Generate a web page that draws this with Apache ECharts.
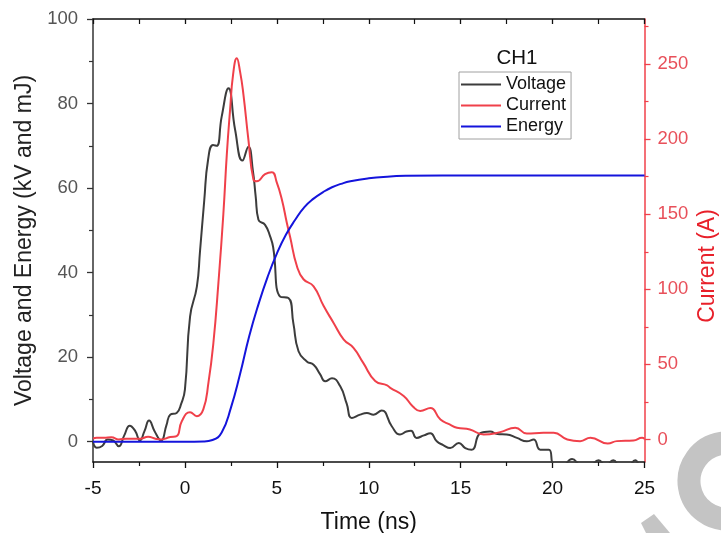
<!DOCTYPE html>
<html>
<head>
<meta charset="utf-8">
<script src="https://cdn.jsdelivr.net/npm/echarts@6/dist/echarts.min.js"></script>
<style>html,body{margin:0;padding:0;background:#fff;}#chart{width:721px;height:533px;}</style>
</head>
<body>
<div id="chart"></div>
<script>
// ---- data ----
const timeV = [-5,-4.8,-4.5,-4.2,-3.9,-3.6,-3.3,-3.0,-2.7,-2.45,-2.2,-1.95,-1.65,-1.3,-1.0,-0.8,-0.45,-0.2,0.0,0.28,0.65,0.82,1.05,1.26,1.53,1.73,2.0,2.37,2.73,3.13,3.45,3.7,3.85,4.0,4.36,4.64,4.8,5.18,5.63,5.9,6.18,6.63,7.0,7.35,7.63,8.0,8.45,8.8,9.08,9.53,9.9,10.26,10.7,11.26,11.7,12.05,12.3,12.6,13.0,13.35,13.7,14.05,14.43,14.9,15.25,15.6,16.07,16.6,17.0,17.5,18.06,18.6,18.97,19.33,19.8,20.06,20.5,21.06,21.5,22.0,22.5,22.9,23.3,23.7,24.1,24.5,24.8,25];
const voltage = [0,-1.4,-1.0,0.5,0.3,-1.1,1.5,3.8,2.5,0.3,2.5,5.0,2.5,0.3,4.0,6.4,6.8,9,12.3,29.6,36.7,45,57,66.7,70.2,70,76.9,83.6,73.8,66.5,69.8,64,58,52.5,51.3,48.5,46,34.3,34,28,21.4,19,18.2,16,14.3,15,13.1,9,5.6,6.4,6.8,6.4,7.4,3.6,1.7,2.4,2.6,0.9,1.5,2.0,0.1,-0.8,-1.5,-0.3,-1.5,-1.9,2.0,2.4,1.8,1.7,0.9,0.1,0.5,-1.9,-1.9,-5.5,-5.8,-4.1,-5.5,-5.8,-4.4,-5.8,-4.4,-5.8,-5.8,-4.4,-5.8,-5.5];

const timeI = [-5,-4.8,-4.4,-4.0,-3.6,-3.2,-2.45,-2.0,-1.6,-1.3,-0.8,-0.45,-0.17,0.28,0.65,1.0,1.28,1.55,1.82,2.09,2.28,2.46,2.62,2.82,3.0,3.18,3.45,3.73,3.91,4.36,4.73,5.0,5.27,5.54,5.72,6.09,6.45,7.0,7.54,8.08,8.63,9.17,9.7,10.35,11.0,11.17,11.9,12.4,12.8,13.35,13.9,14.4,14.8,15.5,16.25,17.15,17.97,18.6,19.5,20.06,20.8,21.5,22.06,23.0,23.5,24.4,24.87,25];
const current = [0.5,1.1,1.1,1.5,0,0.5,0.5,1.8,0.5,0,1.6,2.2,12.2,18.2,15.5,20,37.8,64.4,104,150,190,220,243,253.8,245,230,200,173,172,176.7,178,171,160,144.5,135,115.5,106.7,102,89,77.8,66.7,61,51,39,36,34.4,29,22,19,21,13.3,10,7.8,6.7,3.3,4.9,7.8,4,4.4,4.4,0,-1.1,1.1,-2.7,-1.1,-0.7,1.1,0.5];

const timeE = [-5,0,1.0,1.5,2.0,2.5,3.0,3.5,4.0,4.5,5.0,5.5,6.0,6.5,7.0,7.5,8.0,8.5,9.0,10.0,11.0,12.0,14.0,25];
const energy = [0,0,0.05,0.4,2.2,8,16,25,32.5,39,44.5,49,52.5,55.5,57.5,59,60.2,61,61.6,62.3,62.7,62.9,63,63];

const leftTicks = [0,20,40,60,80,100];
const leftMinor = [10,30,50,70,90];
const rightTicks = [0,50,100,150,200,250];
const rightMinor = [25,75,125,175,225,275];

const zip = (a,b) => a.map((v,i)=>[v,b[i]]);

const RED = '#f0404a';
const RED_TXT = '#e8505a';
const FONT = 'Liberation Sans, Arial, sans-serif';

const chart = echarts.init(document.getElementById('chart'), null, {renderer:'canvas'});
const G = {left:93, right:76.5, top:19, bottom:71, containLabel:false, outerBoundsMode:'none'};
const option = {
  animation:false,
  backgroundColor:'#fff',
  textStyle:{fontFamily:FONT},
  grid:G,
  title:{text:'CH1', left:512, top:43, textAlign:'center',
    textStyle:{fontSize:20.5, fontWeight:'normal', color:'#111', fontFamily:FONT}},
  legend:{
    orient:'vertical', left:459, top:72,
    padding:[2,5,2,2], itemGap:0, itemWidth:40, itemHeight:2, icon:'rect',
    borderColor:'#a0a0a0', borderWidth:1, backgroundColor:'#fff',
    textStyle:{fontSize:18, lineHeight:21, color:'#111', fontFamily:FONT},
    data:['Voltage','Current','Energy']
  },
  xAxis:[
    {type:'value', min:-5, max:25, interval:5, position:'bottom',
     axisLine:{onZero:false, lineStyle:{color:'#111', width:1.5}},
     axisTick:{inside:false, length:6, lineStyle:{color:'#111', width:1.3}},
     minorTick:{show:true, splitNumber:2, length:4, lineStyle:{color:'#111', width:1.2}},
     splitLine:{show:false},
     axisLabel:{fontSize:19, color:'#111', margin:17, fontFamily:FONT},
     name:'Time (ns)', nameLocation:'middle', nameGap:49,
     nameTextStyle:{fontSize:23, color:'#111', fontFamily:FONT}},
    {type:'value', min:-5, max:25, interval:5, position:'top',
     axisLine:{onZero:false, lineStyle:{color:'#111', width:1.5}},
     axisTick:{inside:true, length:5, lineStyle:{color:'#111', width:1.3}},
     minorTick:{show:true, splitNumber:2, length:5, lineStyle:{color:'#111', width:1.2}},
     splitLine:{show:false}, axisLabel:{show:false}}
  ],
  yAxis:[
    {type:'value', min:-4.8, max:100, position:'left',
     axisLine:{show:true, onZero:false, lineStyle:{color:'#333', width:1.5}},
     axisTick:{show:true, inside:false, length:6, customValues:leftTicks, lineStyle:{color:'#333', width:1.3}},
     axisLabel:{customValues:leftTicks, fontSize:18.5, color:'#555', margin:15, fontFamily:FONT},
     splitLine:{show:false},
     name:'Voltage and Energy (kV and mJ)', nameLocation:'middle', nameGap:55,
     nameTextStyle:{fontSize:23, color:'#222', fontFamily:FONT}},
    {type:'value', min:-15, max:280, position:'right',
     axisLine:{show:true, onZero:false, lineStyle:{color:RED, width:1.5}},
     axisTick:{show:true, inside:false, length:6, customValues:rightTicks, lineStyle:{color:RED, width:1.3}},
     axisLabel:{customValues:rightTicks, fontSize:18.5, color:RED_TXT, margin:13, fontFamily:FONT},
     splitLine:{show:false}},
    {type:'value', min:-4.8, max:100, position:'left', offset:0,
     axisLine:{show:false, onZero:false},
     axisTick:{show:true, inside:false, length:4, customValues:leftMinor, lineStyle:{color:'#333', width:1.2}},
     axisLabel:{show:false}, splitLine:{show:false}},
    {type:'value', min:-15, max:280, position:'right', offset:0,
     axisLine:{show:false, onZero:false},
     axisTick:{show:true, inside:false, length:4, customValues:rightMinor, lineStyle:{color:RED, width:1.2}},
     axisLabel:{show:false}, splitLine:{show:false}}
  ],
  graphic:[
    {type:'text', x:708, y:266, rotation:Math.PI/2,
     style:{text:'Current (A)', fill:'#e8202a', font:'23px '+FONT, align:'center', verticalAlign:'middle'}},
    {type:'arc', shape:{cx:727, cy:481, r:38, startAngle:Math.PI*0.45, endAngle:Math.PI*1.6, clockwise:true},
     style:{stroke:'#c4c4c4', lineWidth:23, fill:null}, z:-1},
    {type:'polygon', shape:{points:[[641,523],[654,514],[670,533],[646,533]]},
     style:{fill:'#c4c4c4'}, z:-1}
  ],
  series:[
    {name:'Voltage', type:'line', xAxisIndex:0, yAxisIndex:0, data:zip(timeV,voltage),
     symbol:'none', smooth:0.5, clip:true,
     lineStyle:{color:'#3c3c3c', width:2}, itemStyle:{color:'#3c3c3c'}},
    {name:'Current', type:'line', xAxisIndex:0, yAxisIndex:1, data:zip(timeI,current),
     symbol:'none', smooth:0.5, clip:true,
     lineStyle:{color:RED, width:2}, itemStyle:{color:RED}},
    {name:'Energy', type:'line', xAxisIndex:0, yAxisIndex:0, data:zip(timeE,energy),
     symbol:'none', smooth:0.5, clip:true,
     lineStyle:{color:'#1414dc', width:2}, itemStyle:{color:'#1414dc'}}
  ]
};
chart.setOption(option);
</script>
</body>
</html>
